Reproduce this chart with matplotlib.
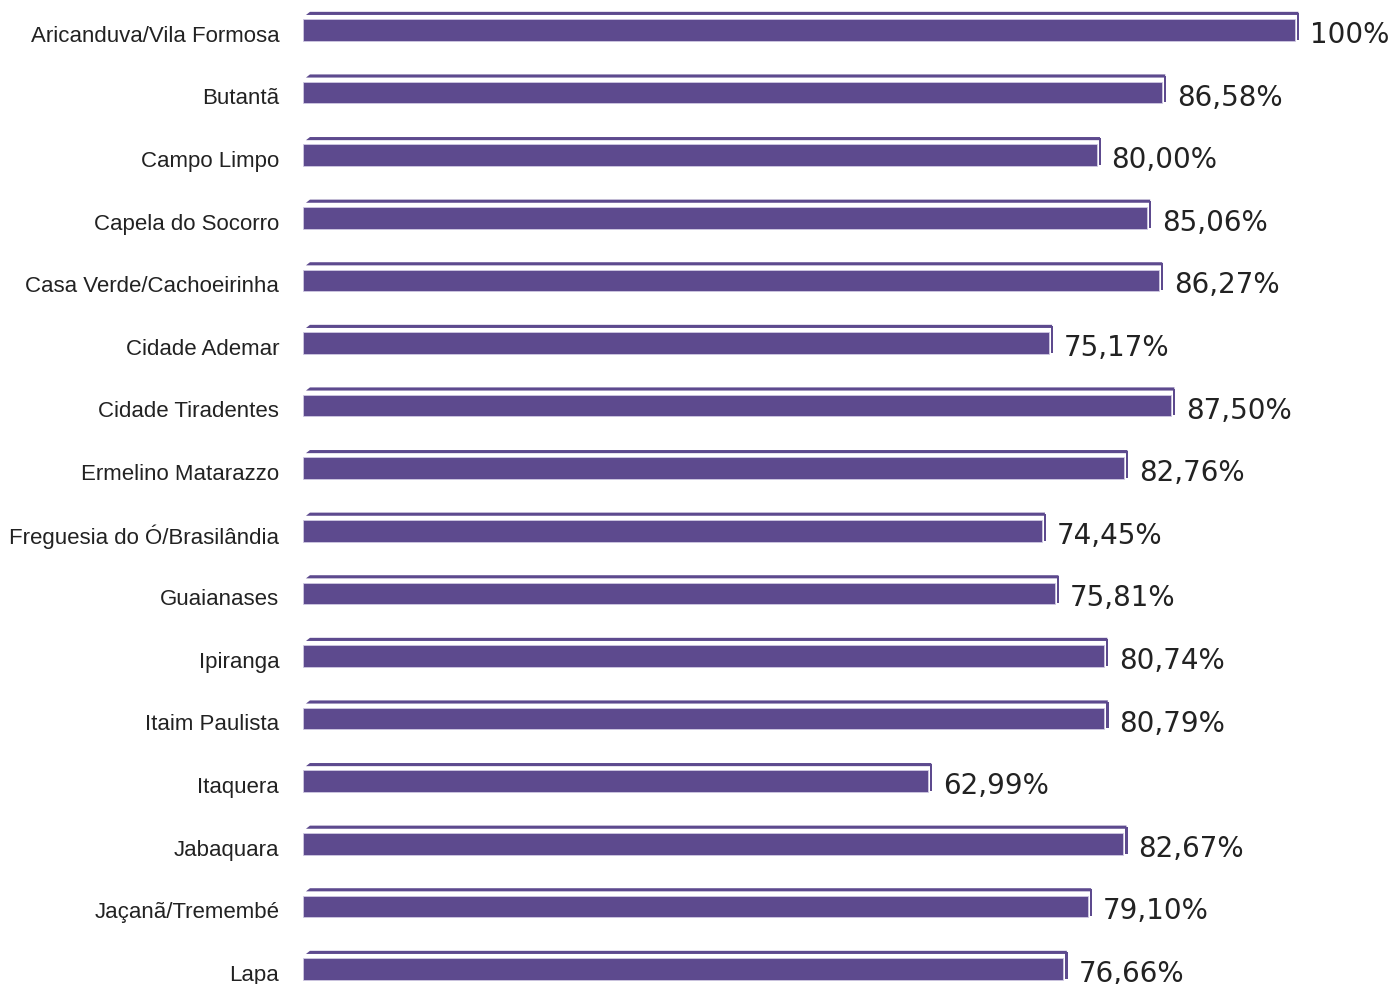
import matplotlib.pyplot as plt
from matplotlib.patches import Polygon, Rectangle

regions = [
    "Aricanduva/Vila Formosa", "Butantã", "Campo Limpo", "Capela do Socorro",
    "Casa Verde/Cachoeirinha", "Cidade Ademar", "Cidade Tiradentes",
    "Ermelino Matarazzo", "Freguesia do Ó/Brasilândia", "Guaianases",
    "Ipiranga", "Itaim Paulista", "Itaquera", "Jabaquara", "Jaçanã/Tremembé",
    "Lapa",
]
values = [100, 86.58, 80.00, 85.06, 86.27, 75.17, 87.50, 82.76,
          74.45, 75.81, 80.74, 80.79, 62.99, 82.67, 79.10, 76.66]
value_labels = ["100%"] + [f"{v:.2f}%".replace(".", ",") for v in values[1:]]

BAR = "#5D4A8E"
TXT = "#222222"

fig = plt.figure(figsize=(13.89, 9.84), dpi=100)
ax = fig.add_axes([303 / 1389, 0, 992 / 1389, 1])
ax.set_xlim(0, 100)
ax.set_ylim(15.24, -0.479)
ax.axis("off")

h = 0.343
for i, (v, lab, vl) in enumerate(zip(values, regions, value_labels)):
    # front face
    ax.add_patch(Rectangle((0, i - h / 2), v, h, facecolor=BAR,
                           edgecolor="#CFC8E2", lw=0.6, clip_on=False))
    # top strip (3d look)
    ax.add_patch(Polygon([(0.3, i - 0.240), (0.7, i - 0.290),
                          (v + 0.35, i - 0.290), (v + 0.3, i - 0.240)],
                         closed=True, facecolor=BAR, edgecolor="none",
                         clip_on=False))
    # side strip
    ax.add_patch(Rectangle((v + 0.2, i - 0.272), 0.25, 0.43,
                           facecolor=BAR, edgecolor="none", clip_on=False))
    ax.text(-2.4, i + 0.1, lab, ha="right", va="center", fontsize=16,
            color=TXT, family="Liberation Sans", clip_on=False)
    ax.text(v + 1.5, i + 0.08, vl, ha="left", va="center", fontsize=20,
            color=TXT, family="DejaVu Sans", clip_on=False)

fig.savefig("out.png", dpi=100)
